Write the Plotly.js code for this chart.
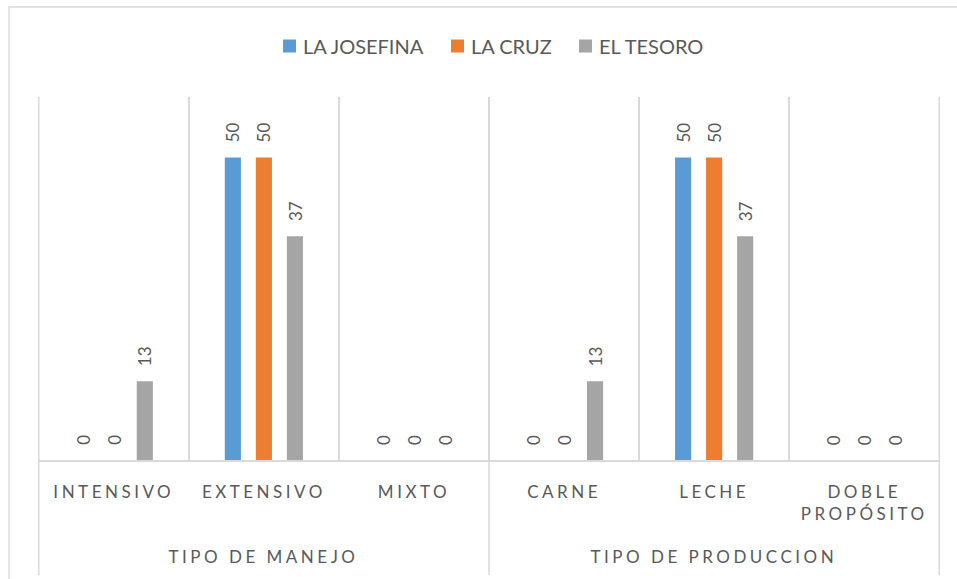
<!DOCTYPE html>
<html>
<head>
<meta charset="utf-8">
<script src="https://cdn.plot.ly/plotly-3.0.1.min.js"></script>
<style>
  html, body { margin: 0; padding: 0; background: #fff; }
  #chart { width: 957px; height: 579px; }
  .xtick text { letter-spacing: 3.5px; }
  .grouplabel .annotation-text { letter-spacing: 3.5px; }
</style>
</head>
<body>
<div id="chart"></div>
<script>
// ---- data ----
const categories = ["INTENSIVO", "EXTENSIVO", "MIXTO", "CARNE", "LECHE", "DOBLE<br>PROPÓSITO"];
const groupLabels = ["TIPO DE MANEJO", "TIPO DE PRODUCCION"];
const groupCenters = [1, 4];
const seriesNames = ["LA JOSEFINA", "LA CRUZ", "EL TESORO"];
const laJosefina = [0, 50, 0, 0, 50, 0];
const laCruz = [0, 50, 0, 0, 50, 0];
const elTesoro = [13, 37, 0, 13, 37, 0];
const seriesColors = ["#5B9BD5", "#ED7D31", "#A5A5A5"];

const FONT = "Lato, 'Open Sans', sans-serif";
const TXT = "#595959";
const GRID = "#D9D9D9";
const BARGAP = 0.38, BARGROUPGAP = 0.48;

const values = [laJosefina, laCruz, elTesoro];
const traces = values.map((v, i) => ({
  type: "bar",
  name: seriesNames[i],
  x: categories,
  y: v,
  marker: { color: seriesColors[i] },
  showlegend: false,
  hoverinfo: "x+y+name"
}));

// plot area geometry helpers (margins)
const W = 957, H = 579;
const mL = 38, mR = 17, mT = 97, mB = 119;
const pw = W - mL - mR, ph = H - mT - mB;
const px2x = p => (p - mL) / pw;
const px2y = p => (H - mB - p) / ph;

const shapes = [];
// group dividers (extend below axis through labels)
[-0.5, 2.5, 5.5].forEach(xv => {
  shapes.push({
    type: "line", xref: "x", yref: "paper",
    x0: xv, x1: xv, y0: 1, y1: px2y(575),
    line: { color: GRID, width: 1.5 }
  });
});
// chart area border
shapes.push({
  type: "rect", xref: "paper", yref: "paper",
  x0: px2x(9), x1: px2x(990), y0: px2y(600), y1: px2y(7),
  line: { color: GRID, width: 1.3 }, fillcolor: "rgba(0,0,0,0)"
});

const annotations = [];
// group labels (second level of the category axis)
groupLabels.forEach((g, i) => annotations.push({
  text: g, xref: "x", yref: "paper",
  x: groupCenters[i], y: px2y(556),
  xanchor: "center", yanchor: "middle",
  showarrow: false, name: "group",
  font: { family: FONT, size: 17, color: TXT }
}));

// data labels, placed through the axis scales
const slot = (1 - BARGAP) / values.length;
values.forEach((v, s) => {
  v.forEach((val, c) => {
    annotations.push({
      text: String(val), xref: "x", yref: "y",
      x: c + (s - (values.length - 1) / 2) * slot, y: val,
      xanchor: "center", yanchor: "bottom", yshift: 13,
      textangle: -90, showarrow: false,
      font: { family: FONT, size: 17, color: TXT }
    });
  });
});

// legend (Excel style: small gap between swatch and text)
const legendIconLeft = [283, 451, 579];
seriesNames.forEach((n, i) => {
  const x0 = legendIconLeft[i];
  shapes.push({
    type: "rect", xref: "paper", yref: "paper",
    x0: px2x(x0), x1: px2x(x0 + 13), y0: px2y(52.5), y1: px2y(39.5),
    line: { width: 0 }, fillcolor: seriesColors[i]
  });
  annotations.push({
    text: n, xref: "paper", yref: "paper",
    x: px2x(x0 + 18), y: px2y(46.5),
    xanchor: "left", yanchor: "middle", showarrow: false,
    font: { family: FONT, size: 20, color: TXT }
  });
});

const layout = {
  width: W, height: H,
  margin: { l: mL, r: mR, t: mT, b: mB, pad: 0 },
  paper_bgcolor: "#fff", plot_bgcolor: "#fff",
  barmode: "group",
  bargap: BARGAP,
  bargroupgap: BARGROUPGAP,
  font: { family: FONT, color: TXT },
  showlegend: false,
  xaxis: {
    type: "category",
    tickson: "boundaries",
    showgrid: true, gridcolor: GRID, gridwidth: 1.5,
    showline: true, linecolor: GRID, linewidth: 1.5,
    ticks: "",
    ticklabelstandoff: 16,
    tickfont: { family: FONT, size: 17, color: TXT },
    automargin: false,
    fixedrange: true
  },
  yaxis: {
    range: [0, 60],
    showgrid: false, zeroline: false, showline: false,
    showticklabels: false, ticks: "",
    automargin: false,
    fixedrange: true
  },
  shapes: shapes,
  annotations: annotations
};

Plotly.newPlot("chart", traces, layout, { displayModeBar: false, staticPlot: true }).then(gd => {
  // letter-spacing for the group labels only
  const anns = gd.querySelectorAll(".annotation");
  anns.forEach((a, i) => { if (i < groupLabels.length) a.classList.add("grouplabel"); });
});
</script>
</body>
</html>
